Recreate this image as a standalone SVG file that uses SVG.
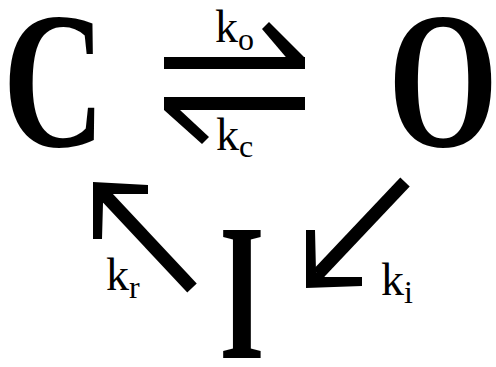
<svg xmlns="http://www.w3.org/2000/svg" width="496" height="367" viewBox="0 0 496 367">
<style>
.big{font-family:"Liberation Serif",serif;font-weight:bold;font-size:194px;fill:#000;text-anchor:middle}
.lbl{font-family:"Liberation Serif",serif;font-size:46px;fill:#000}
.sub{font-size:32px}
.shaft{stroke:#000;stroke-width:13;fill:none}
</style>
<rect width="496" height="367" fill="#fff"/>
<g id="node-C"><text class="big" transform="translate(54,146) scale(0.73,1)">C</text></g>
<g id="node-O"><text class="big" transform="translate(443,146) scale(0.73,1)">O</text></g>
<g id="node-I"><text class="big" transform="translate(242,358) scale(0.6,1)">I</text></g>
<g id="connectors">
  <g id="C-to-O">
    <rect x="164" y="57" width="141" height="12"/>
    <polygon points="262,29 269,22 305,58 305,69 296,69"/>
    <text class="lbl" x="215" y="42">k<tspan class="sub" dy="8">o</tspan></text>
  </g>
  <g id="O-to-C">
    <rect x="164" y="97" width="141" height="13"/>
    <polygon points="164,97 164,110 202,144 209,137 180,110"/>
    <text class="lbl" x="216" y="150">k<tspan class="sub" dy="7">c</tspan></text>
  </g>
  <g id="I-to-C">
    <line class="shaft" x1="192" y1="288" x2="104" y2="194"/>
    <polygon points="93,182 148,185 148,194 112,194 103,203 102,239 93,239"/>
    <text class="lbl" x="106" y="290">k<tspan class="sub" dy="8">r</tspan></text>
  </g>
  <g id="O-to-I">
    <line class="shaft" x1="405" y1="182" x2="318" y2="274"/>
    <polygon points="306,230 315,230 316,272 325,277 362,277 362,286 306,288"/>
    <text class="lbl" x="381" y="295">k<tspan class="sub" dy="8">i</tspan></text>
  </g>
</g>
</svg>
